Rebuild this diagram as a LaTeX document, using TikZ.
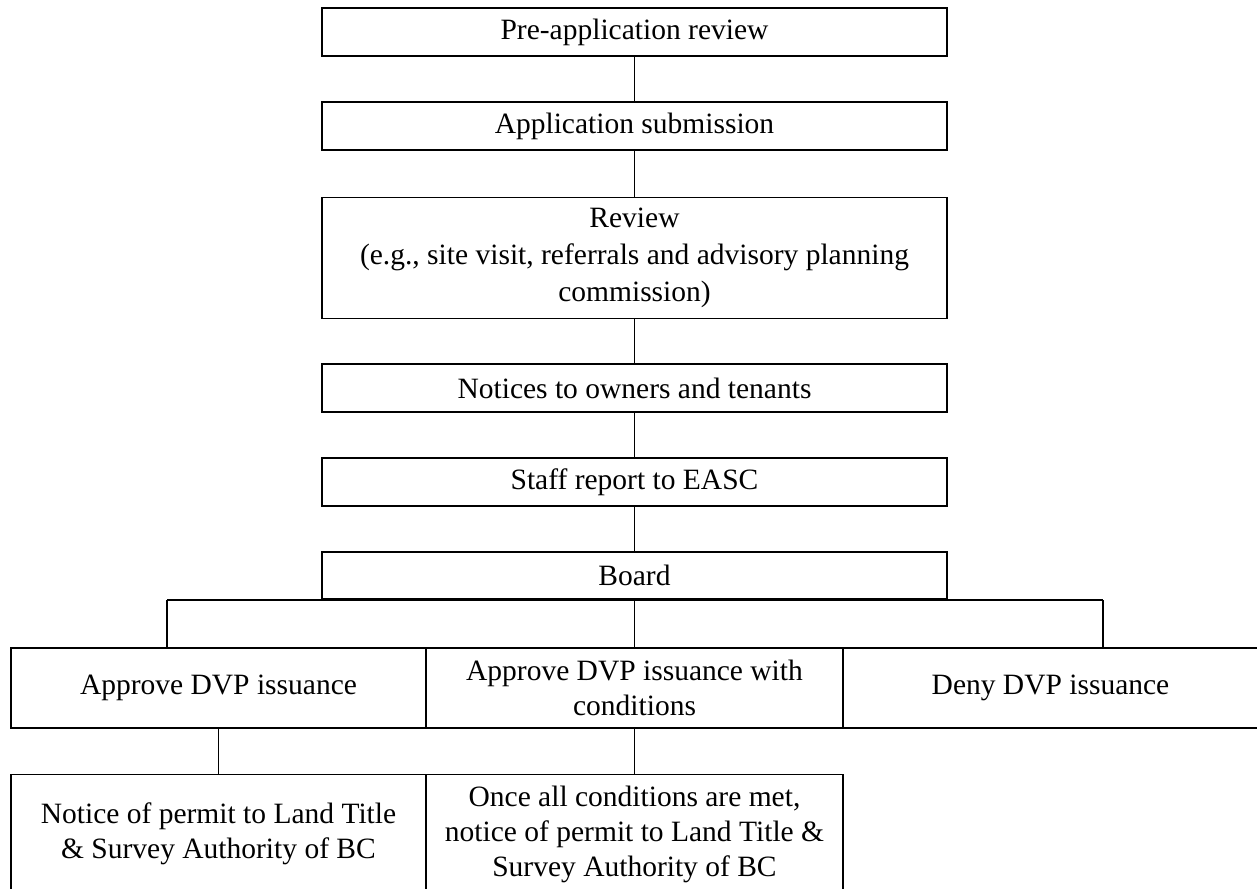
\documentclass[tikz,border=0pt]{standalone}
\usepackage{fontspec}
\setmainfont{Liberation Serif}
\begin{document}
\begin{tikzpicture}[x=1pt,y=-1pt,
  box/.style={draw, line width=1.8pt, align=center, inner sep=0pt,
    font=\fontsize{29.5}{35}\selectfont, minimum width=625pt, minimum height=47.5pt},
  rowbox/.style={draw, line width=1.8pt, align=center, inner sep=0pt,
    font=\fontsize{29.5}{35}\selectfont, minimum width=415pt, minimum height=80pt},
  botbox/.style={rowbox, minimum height=119pt},
  conn/.style={line width=1.8pt}]
\useasboundingbox (0,0) rectangle (1257,888);
\clip (0,0) rectangle (1257,888);
\fill[white] (0,0) rectangle (1257,888);
\node[box] (pre) at (634.5,32) {Pre-application review};
\node[box] (app) at (634.5,126) {Application submission};
\node[box, minimum height=121pt, font=\fontsize{29.5}{37}\selectfont] (rev) at (634.5,258) {Review\\(e.g., site visit, referrals and advisory planning\\commission)};
\node[box] (not) at (634.5,388) {Notices to owners and tenants};
\node[box] (staff) at (634.5,482) {Staff report to EASC};
\node[box] (board) at (634.5,575.5) {Board};
\node[rowbox] (appr) at (218.5,688) {Approve DVP issuance};
\node[rowbox, minimum width=417pt] (apprc) at (634.5,688) {Approve DVP issuance with\\conditions};
\node[rowbox] (deny) at (1050.5,688) {Deny DVP issuance};
\node[botbox] (nl) at (218.5,834) {Notice of permit to Land Title\\\& Survey Authority of BC};
\node[botbox, minimum width=417pt] (nm) at (634.5,834) {Once all conditions are met,\\notice of permit to Land Title \&\\Survey Authority of BC};
\path (board.south) ++(-467.5,0) coordinate (bl);
\path (board.south) ++(468.5,0) coordinate (br);
\draw[conn] (pre) -- (app);
\draw[conn] (app) -- (rev);
\draw[conn] (rev) -- (not);
\draw[conn] (not) -- (staff);
\draw[conn] (staff) -- (board);
\draw[conn] (board) -- (apprc);
\draw[conn] (bl) -- (br);
\draw[conn] (bl) -- (bl |- appr.north);
\draw[conn] (br) -- (br |- deny.north);
\draw[conn] (appr) -- (nl);
\draw[conn] (apprc) -- (nm);
\end{tikzpicture}
\end{document}
